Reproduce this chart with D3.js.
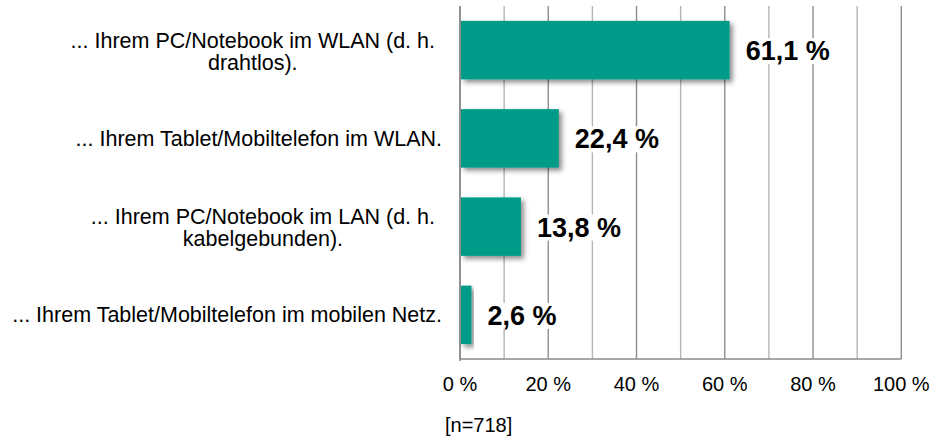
<!DOCTYPE html>
<html>
<head>
<meta charset="utf-8">
<script src="https://cdn.jsdelivr.net/npm/d3@7"></script>
<style>
  body { margin: 0; background: #fff; }
  text { font-family: "Liberation Sans", Arial, sans-serif; fill: #000; }
</style>
</head>
<body>
<div id="chart"></div>
<script>
var categories = [
  '... Ihrem PC/Notebook im WLAN (d. h.\ndrahtlos).',
  '... Ihrem Tablet/Mobiltelefon im WLAN.',
  '... Ihrem PC/Notebook im LAN (d. h.\nkabelgebunden).',
  '... Ihrem Tablet/Mobiltelefon im mobilen Netz.'
]
var values = [0.611, 0.224, 0.138, 0.026]
var tickValues = [0, 0.2, 0.4, 0.6, 0.8, 1]
var gridValues = [0, 0.1, 0.2, 0.3, 0.4, 0.5, 0.6, 0.7, 0.8, 0.9, 1]
var note = '[n=718]'

var width = 933, height = 440
var plotLeft = 460, plotRight = 901.3, plotTop = 6, plotBottom = 359

var fmt = function(d){ return d3.format('.1f')(d * 100).replace('.', ',') + ' %' }

var svg = d3.select('#chart').append('svg')
  .attr('width', width).attr('height', height)

var defs = svg.append('defs')
defs.append('filter').attr('id', 'shadow')
  .attr('x', '-10%').attr('y', '-10%').attr('width', '130%').attr('height', '140%')
  .append('feDropShadow')
  .attr('dx', 3).attr('dy', 3).attr('stdDeviation', 2.5)
  .attr('flood-color', '#000').attr('flood-opacity', 0.45)

var x = d3.scaleLinear().domain([0, 1]).range([plotLeft, plotRight])
var y = d3.scaleBand().domain(d3.range(categories.length))
  .range([plotTop, plotBottom]).paddingInner(0.337).paddingOuter(0.1685)

// gridlines
svg.append('g').selectAll('line').data(gridValues).join('line')
  .attr('x1', d => x(d)).attr('x2', d => x(d))
  .attr('y1', plotTop).attr('y2', plotBottom)
  .attr('stroke', (d, i) => i % 2 == 0 ? '#8f8f8f' : '#b5b5b5')
  .attr('stroke-width', 1.4)

// axis lines
svg.append('line').attr('x1', x(0)).attr('x2', x(1)).attr('y1', plotBottom).attr('y2', plotBottom)
  .attr('stroke', '#8a8a8a').attr('stroke-width', 1.6)
svg.append('line').attr('x1', x(0)).attr('x2', x(0)).attr('y1', plotTop).attr('y2', plotBottom + 2)
  .attr('stroke', '#8a8a8a').attr('stroke-width', 1.6)

// bars
svg.append('g').selectAll('rect').data(values).join('rect')
  .attr('x', x(0) + 1)
  .attr('y', (d, i) => y(i))
  .attr('width', d => x(d) - x(0) - 1)
  .attr('height', y.bandwidth())
  .attr('fill', '#009a89')
  .attr('filter', 'url(#shadow)')

// value labels with white background
var vl = svg.append('g').selectAll('g').data(values).join('g')
vl.each(function(d, i){
  var g = d3.select(this)
  var cy = y(i) + y.bandwidth() / 2
  var t = g.append('text')
    .attr('x', x(d) + 16).attr('y', cy + 10)
    .attr('font-size', 27).attr('font-weight', 'bold')
    .text(fmt(d))
  var b = t.node().getBBox()
  g.insert('rect', 'text')
    .attr('x', b.x - 2).attr('y', b.y + 2).attr('width', b.width + 4).attr('height', b.height - 4)
    .attr('fill', '#fff')
})

// category labels
var cl = svg.append('g').selectAll('g').data(categories).join('g')
cl.each(function(d, i){
  var g = d3.select(this)
  var lines = d.split('\n')
  var cy = y(i) + y.bandwidth() / 2
  if (lines.length == 1) {
    g.append('text').attr('x', 442).attr('y', cy + 7.5)
      .attr('text-anchor', 'end').attr('font-size', 21.5).text(d)
  } else {
    var ts = lines.map(function(l, j){
      return g.append('text').attr('y', cy - 2.5 + j * 22)
        .attr('text-anchor', 'middle').attr('font-size', 21.5).text(l)
    })
    var w = d3.max(ts, t => t.node().getComputedTextLength())
    ts.forEach(t => t.attr('x', 435 - w / 2))
  }
})

// x tick labels
svg.append('g').selectAll('text').data(tickValues).join('text')
  .attr('x', d => x(d)).attr('y', 391)
  .attr('text-anchor', 'middle').attr('font-size', 20)
  .text(d => d3.format('d')(d * 100) + ' %')

svg.append('text').attr('x', 445).attr('y', 432).attr('font-size', 20).text(note)
</script>
</body>
</html>
